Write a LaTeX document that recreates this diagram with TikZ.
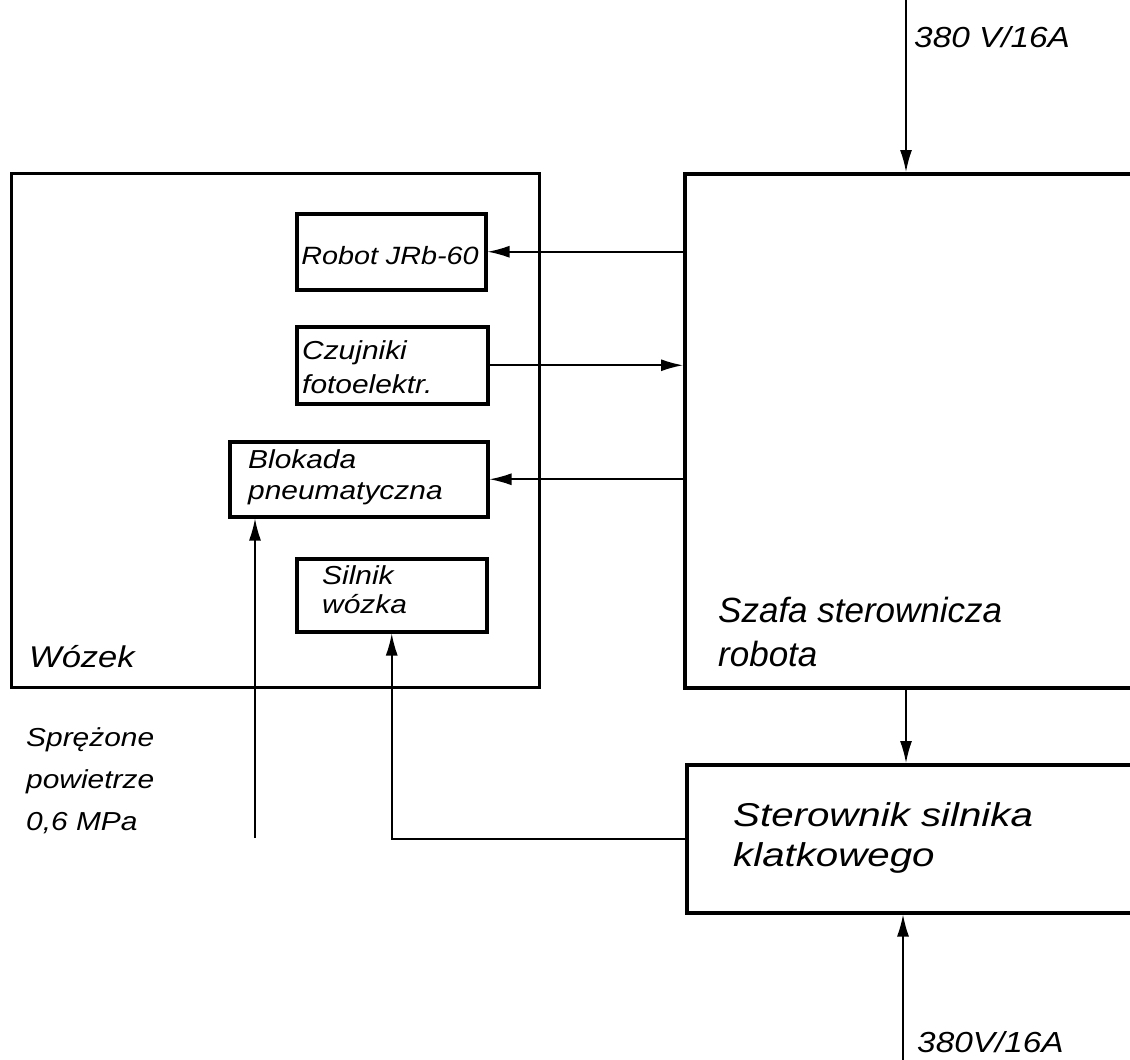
\documentclass[tikz,border=0pt]{standalone}
\usepackage{fontspec}
\setmainfont{Liberation Sans}
\newfontfamily\widefont[FakeStretch=1.15]{Liberation Sans}
\newfontfamily\widerfont[FakeStretch=1.22]{Liberation Sans}
\usetikzlibrary{arrows.meta}
\begin{document}
\begin{tikzpicture}[x=1pt,y=-1pt,
  box/.style={draw, line width=3.5pt, rectangle, inner sep=0pt, anchor=north west},
  arr/.style={line width=1.6pt, -{Latex[length=22pt,width=12pt]}},
  lbl/.style={inner sep=0pt, anchor=base west, align=left},
  btxt/.style={lbl, font=\widefont\itshape\fontsize{26}{34}\selectfont}]
\clip (0,0) rectangle (1130,1060);
\fill[white] (0,0) rectangle (1130,1060);
% main boxes
\node[box, line width=3pt, minimum width=528pt, minimum height=514pt] (wozek) at (10,172) {};
\node[box, minimum width=470pt, minimum height=514pt] (szafa) at (683,172) {};
\node[box, minimum width=470pt, minimum height=148pt] (ster) at (685,763) {};
% inner boxes
\node[box, minimum width=189pt, minimum height=76pt] (robot) at (295,212) {};
\node[box, minimum width=191pt, minimum height=77pt] (czuj) at (295,325) {};
\node[box, minimum width=258pt, minimum height=75pt] (blok) at (228,440) {};
\node[box, minimum width=190pt, minimum height=73pt] (siln) at (295,557) {};
% box texts (base = last line's baseline)
\node[btxt, anchor=base, font=\widefont\itshape\fontsize{25}{34}\selectfont] (trobot) at (390,264) {Robot JRb-60};
\node[btxt] (tczuj) at (302,393) {Czujniki\\fotoelektr.};
\node[btxt, font=\widefont\itshape\fontsize{26}{31}\selectfont] (tblok) at (248,499) {Blokada\\pneumatyczna};
\node[btxt, font=\widefont\itshape\fontsize{26}{29}\selectfont] (tsiln) at (322,613) {Silnik\\wózka};
% labels
\node[lbl, font=\widefont\itshape\fontsize{30}{40}\selectfont] (lwoz) at (29,667) {Wózek};
\node[lbl, font=\itshape\fontsize{35}{44}\selectfont] (lsz) at (718,666) {Szafa sterownicza\\robota};
\node[lbl, font=\widerfont\itshape\fontsize{33}{40}\selectfont] (lst) at (733,866) {Sterownik silnika\\klatkowego};
\node[lbl, font=\widefont\itshape\fontsize{26}{42}\selectfont] (lair) at (26,830) {Sprężone\\powietrze\\0,6 MPa};
% supply points
\coordinate (pin1) at (906,0);
\coordinate (pin2) at (903,1060);
\coordinate (air) at (255,838);
\node[lbl, font=\widefont\itshape\fontsize{29}{36}\selectfont] (v1) at (914,47) {380 V/16A};
\node[lbl, font=\widefont\itshape\fontsize{29}{36}\selectfont] (v2) at (917,1052) {380V/16A};
% connectors
\draw[arr] (pin1) -- (pin1 |- szafa.north);
\draw[arr] (pin1 |- szafa.south) -- (pin1 |- ster.north);
\draw[arr] (pin2) -- (pin2 |- ster.south);
\draw[arr] (robot.east -| szafa.west) -- (robot.east);
\draw[arr] (czuj.east) -- (czuj.east -| szafa.west);
\draw[arr] (blok.east -| szafa.west) -- (blok.east);
\draw[arr] (air) -- (air |- blok.south);
\draw[arr] (ster.west) -| (siln.south);
\end{tikzpicture}
\end{document}
